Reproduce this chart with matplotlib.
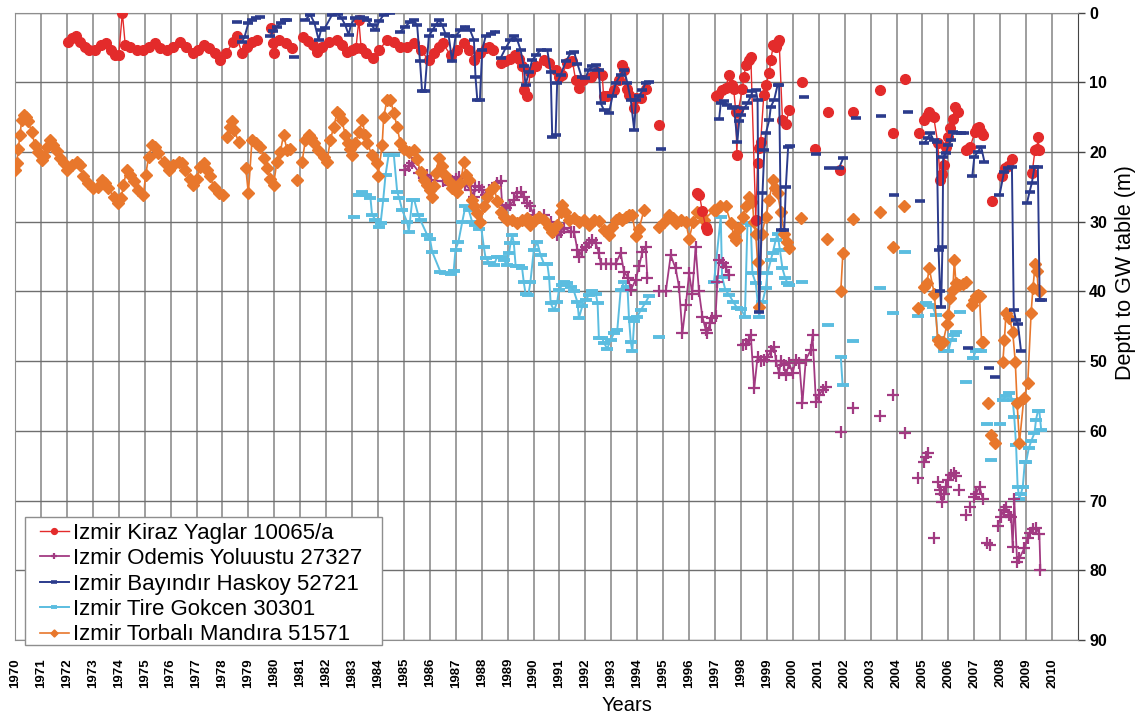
import numpy as np
import matplotlib
matplotlib.use("Agg")
import matplotlib.pyplot as plt
from matplotlib.lines import Line2D
from matplotlib.patches import Rectangle

plt.rcParams['font.family'] = ['Liberation Sans', 'DejaVu Sans']

# Depth to groundwater table (m), as (year, depth) segments.
# A new segment means a gap in the record (no connecting line).
kiraz = [
    [(1972.05, 4.2), (1972.2, 3.7), (1972.35, 3.4), (1972.5, 4.2), (1972.7, 4.9), (1972.85, 5.3),
     (1973.1, 5.35), (1973.3, 4.6), (1973.5, 4.4), (1973.7, 5.35), (1973.85, 6.1), (1974.0, 6.1),
     (1974.14, 0.0), (1974.25, 4.6), (1974.45, 4.9), (1974.7, 5.35), (1974.95, 5.35), (1975.15, 4.9),
     (1975.4, 4.4), (1975.6, 5.1), (1975.85, 5.35), (1976.1, 4.9), (1976.35, 4.2), (1976.6, 4.9),
     (1976.85, 5.8), (1977.05, 5.35), (1977.3, 4.6), (1977.5, 5.1), (1977.7, 5.8), (1977.92, 6.8),
     (1978.15, 5.8), (1978.4, 4.2), (1978.55, 3.4), (1978.75, 5.8), (1978.95, 4.9), (1979.15, 4.2),
     (1979.33, 3.9)],
    [(1979.88, 2.2), (1979.95, 4.4), (1980.0, 5.8), (1980.2, 3.9), (1980.45, 4.4), (1980.7, 5.1)],
    [(1981.1, 3.5), (1981.3, 4.0), (1981.5, 4.6), (1981.65, 5.6), (1981.85, 4.9), (1982.1, 4.2),
     (1982.4, 3.9), (1982.6, 4.6), (1982.8, 5.6), (1983.0, 5.35), (1983.15, 5.1), (1983.26, 1.05),
     (1983.35, 5.1), (1983.55, 5.8), (1983.8, 6.5), (1984.05, 5.35), (1984.35, 3.9), (1984.6, 4.2),
     (1984.85, 4.9), (1985.1, 4.9), (1985.4, 4.4), (1985.65, 5.35), (1985.95, 6.8), (1986.15, 5.8),
     (1986.35, 4.9), (1986.5, 4.4), (1986.8, 6.1), (1987.05, 5.35), (1987.3, 4.4), (1987.5, 5.35),
     (1987.7, 6.8), (1987.95, 5.8), (1988.15, 5.1), (1988.3, 4.9), (1988.45, 5.35)],
    [(1988.75, 7.2), (1988.9, 7.0), (1989.1, 6.6), (1989.3, 6.1), (1989.45, 6.6), (1989.56, 7.7),
     (1989.62, 11.1), (1989.75, 12.0), (1989.88, 8.5), (1990.1, 7.7), (1990.39, 6.8), (1990.6, 7.2),
     (1990.85, 8.2), (1990.97, 9.2), (1991.1, 8.9), (1991.3, 7.2), (1991.5, 7.0), (1991.62, 9.6),
     (1991.74, 10.8), (1991.9, 9.6), (1992.2, 9.2), (1992.45, 8.5), (1992.65, 8.9), (1992.7, 12.0),
     (1992.85, 12.0), (1993.1, 11.1), (1993.3, 9.6), (1993.42, 7.5), (1993.5, 8.2), (1993.6, 10.9),
     (1993.7, 11.8), (1993.86, 13.7), (1993.95, 12.3), (1994.13, 12.3), (1994.32, 10.9)],
    [(1994.83, 16.1)],
    [(1996.32, 25.9), (1996.4, 26.2), (1996.51, 28.5), (1996.64, 30.7), (1996.68, 31.2)],
    [(1997.03, 12.0), (1997.1, 11.8), (1997.25, 11.1), (1997.41, 10.8), (1997.54, 8.9), (1997.67, 10.4),
     (1997.72, 11.0), (1997.8, 14.2), (1997.84, 20.4), (1997.9, 14.0), (1998.05, 11.0), (1998.11, 9.2),
     (1998.19, 7.5), (1998.3, 6.8), (1998.38, 6.3), (1998.57, 29.7), (1998.64, 21.6), (1998.7, 19.4),
     (1998.76, 18.5), (1998.88, 11.8), (1998.96, 10.4), (1999.09, 8.7), (1999.15, 6.8), (1999.25, 4.6),
     (1999.34, 4.9), (1999.41, 4.2), (1999.47, 3.9), (1999.6, 15.4), (1999.73, 15.9), (1999.86, 14.0)],
    [(2000.35, 10.0)], [(2000.85, 19.6)], [(2001.34, 14.3)], [(2001.83, 22.6)], [(2002.34, 14.3)],
    [(2003.35, 11.1)], [(2003.85, 17.2)], [(2004.34, 9.5)], [(2004.85, 17.2)],
    [(2005.07, 15.4), (2005.16, 14.8), (2005.26, 14.2), (2005.35, 14.8), (2005.43, 14.9), (2005.59, 18.7),
     (2005.68, 24.0), (2005.74, 23.2), (2005.82, 21.8), (2005.91, 19.2), (2006.0, 17.8), (2006.08, 16.6),
     (2006.17, 15.2), (2006.26, 13.5), (2006.38, 14.2)],
    [(2006.66, 19.7), (2006.75, 19.5), (2006.84, 19.2), (2007.03, 17.1), (2007.1, 16.6), (2007.17, 16.4),
     (2007.26, 17.1), (2007.35, 17.5)],
    [(2007.67, 27.0)],
    [(2008.05, 23.5), (2008.19, 22.3), (2008.3, 22.0), (2008.44, 21.0)],
    [(2009.23, 23.0), (2009.34, 19.7), (2009.42, 19.5), (2009.45, 17.9), (2009.51, 19.7)],
]

odemis = [
    [(1985.06, 22.6), (1985.2, 22.0), (1985.32, 21.6), (1985.6, 23.0), (1985.83, 23.8), (1985.9, 23.3),
     (1986.05, 24.0), (1986.5, 24.2), (1986.73, 24.7), (1986.86, 24.2), (1986.99, 23.8), (1987.12, 23.6),
     (1987.25, 24.2), (1987.37, 24.7), (1987.57, 25.4), (1987.7, 26.4), (1987.76, 24.8), (1987.89, 25.0),
     (1988.02, 25.5), (1988.15, 26.2), (1988.3, 25.4), (1988.47, 25.2), (1988.6, 24.5), (1988.73, 24.2),
     (1988.79, 27.6), (1988.92, 28.0), (1989.1, 27.6), (1989.24, 26.9), (1989.37, 25.9), (1989.5, 25.7),
     (1989.63, 26.4), (1989.76, 27.3), (1989.88, 27.8), (1990.0, 29.0), (1990.2, 29.3), (1990.4, 29.0),
     (1990.66, 30.0), (1990.79, 31.4), (1990.91, 31.9), (1991.04, 31.4), (1991.17, 30.9), (1991.43, 31.4),
     (1991.56, 31.4), (1991.69, 34.0), (1991.75, 35.0), (1991.88, 34.0), (1992.01, 33.6), (1992.14, 33.1),
     (1992.27, 32.6), (1992.4, 33.1), (1992.52, 34.5), (1992.59, 36.0), (1992.78, 36.0), (1992.97, 36.0),
     (1993.17, 36.0), (1993.36, 34.5), (1993.49, 37.2), (1993.65, 38.0), (1993.75, 39.8), (1993.94, 38.3),
     (1994.07, 36.4), (1994.2, 34.3), (1994.32, 33.6), (1994.39, 38.1)],
    [(1994.85, 40.0), (1995.1, 40.0), (1995.29, 34.8), (1995.48, 36.7), (1995.61, 39.3), (1995.74, 46.0),
     (1995.87, 42.0), (1996.0, 37.4), (1996.12, 40.3), (1996.25, 33.6), (1996.38, 40.0), (1996.51, 43.6),
     (1996.64, 45.5), (1996.7, 46.0), (1996.8, 44.5), (1996.9, 43.8), (1997.02, 43.5), (1997.09, 38.6),
     (1997.16, 35.5), (1997.3, 35.9), (1997.41, 36.5), (1997.54, 37.6)],
    [(1998.06, 47.7), (1998.18, 47.5), (1998.31, 47.0), (1998.38, 46.3), (1998.51, 53.9), (1998.64, 49.4),
     (1998.76, 50.0), (1998.89, 49.8), (1999.02, 49.4), (1999.15, 48.6), (1999.28, 47.9), (1999.35, 50.0),
     (1999.47, 51.7), (1999.54, 50.0), (1999.65, 50.6), (1999.73, 52.0), (1999.86, 50.3), (1999.99, 51.7),
     (2000.12, 49.8), (2000.25, 50.3), (2000.37, 56.0), (2000.5, 49.8), (2000.69, 48.4), (2000.76, 46.3),
     (2000.89, 55.8), (2001.02, 54.8), (2001.15, 54.1), (2001.27, 53.7)],
    [(2001.85, 60.1)], [(2002.34, 56.7)], [(2003.36, 57.8)], [(2003.85, 54.9)], [(2004.34, 60.3)],
    [(2004.84, 66.8)],
    [(2005.07, 64.4), (2005.12, 63.8), (2005.2, 63.2)],
    [(2005.43, 75.3)],
    [(2005.59, 67.4), (2005.66, 68.5), (2005.72, 69.0), (2005.77, 70.2), (2005.84, 69.0), (2005.91, 68.0),
     (2006.0, 67.0), (2006.1, 66.3), (2006.23, 66.0), (2006.3, 66.5)],
    [(2006.42, 68.5)], [(2006.68, 72.1)], [(2006.85, 70.9)],
    [(2007.0, 69.5), (2007.07, 69.0), (2007.2, 68.0), (2007.32, 69.7)],
    [(2007.49, 76.1)], [(2007.6, 76.4)],
    [(2007.9, 73.6), (2008.03, 72.3), (2008.13, 71.4), (2008.22, 70.9), (2008.32, 72.0), (2008.42, 72.4),
     (2008.48, 76.6), (2008.54, 69.7), (2008.65, 78.8), (2008.74, 78.3), (2008.93, 76.8), (2009.06, 75.3),
     (2009.15, 74.6), (2009.26, 74.1), (2009.39, 73.9), (2009.51, 74.8), (2009.55, 80.0)],
]

bayindir = [
    [(1978.56, 1.4)],
    [(1978.75, 4.2), (1978.85, 3.5), (1979.0, 1.5), (1979.15, 1.0), (1979.3, 0.8), (1979.46, 0.6)],
    [(1979.85, 3.4), (1979.95, 2.6), (1980.1, 2.0), (1980.25, 1.5), (1980.4, 1.0), (1980.49, 1.0)],
    [(1980.75, 6.3)],
    [(1981.2, 1.0), (1981.39, 0.3), (1981.55, 1.5), (1981.71, 3.9), (1981.8, 2.5), (1981.95, 2.2),
     (1982.23, 0.3), (1982.45, 0.2), (1982.6, 0.8), (1982.74, 1.8), (1982.87, 3.2), (1982.95, 1.8),
     (1983.1, 0.8), (1983.3, 0.6), (1983.45, 0.8), (1983.58, 1.0), (1983.75, 1.8), (1983.9, 2.5),
     (1984.05, 1.2), (1984.22, 0.3), (1984.48, 0.1)],
    [(1984.86, 2.7), (1985.05, 2.0), (1985.25, 1.3), (1985.38, 1.05), (1985.51, 1.8), (1985.62, 7.0),
     (1985.7, 11.3), (1985.8, 11.3), (1985.96, 3.4), (1986.1, 2.5), (1986.22, 1.8), (1986.35, 1.05),
     (1986.48, 1.8), (1986.6, 3.0), (1986.73, 3.4), (1986.86, 7.0), (1986.99, 3.4), (1987.18, 2.5),
     (1987.37, 2.0), (1987.55, 2.5), (1987.7, 3.9), (1987.76, 9.2), (1987.83, 12.5), (1987.93, 12.5),
     (1988.02, 5.35), (1988.15, 3.4), (1988.34, 3.0), (1988.53, 2.7)],
    [(1988.73, 6.5), (1988.92, 5.1), (1989.11, 3.9), (1989.24, 3.4), (1989.37, 3.9), (1989.5, 5.35),
     (1989.62, 7.7), (1989.69, 10.4), (1989.82, 8.5), (1989.95, 6.8), (1990.1, 6.1), (1990.27, 5.35),
     (1990.53, 5.35), (1990.66, 8.5), (1990.72, 17.8), (1990.85, 17.5), (1990.91, 10.1), (1991.05, 8.9),
     (1991.24, 7.0), (1991.43, 5.8), (1991.56, 5.6), (1991.69, 7.3), (1991.85, 9.2), (1992.0, 9.4),
     (1992.13, 8.2), (1992.27, 7.7), (1992.4, 7.5), (1992.52, 8.2), (1992.59, 13.0), (1992.72, 14.0),
     (1992.91, 14.4), (1993.04, 12.0), (1993.17, 10.1), (1993.36, 8.9), (1993.49, 8.2), (1993.62, 10.1),
     (1993.75, 12.5), (1993.88, 16.8), (1993.95, 12.5), (1994.07, 12.0), (1994.2, 11.1), (1994.32, 10.1),
     (1994.45, 9.9)],
    [(1994.9, 19.5)],
    [(1997.16, 15.2), (1997.22, 13.0), (1997.35, 12.7), (1997.48, 13.2), (1997.67, 13.7), (1997.73, 13.5),
     (1997.86, 18.5), (1997.93, 15.6), (1997.99, 14.7), (1998.12, 13.7), (1998.25, 13.0), (1998.38, 12.0),
     (1998.44, 11.3), (1998.57, 11.1), (1998.64, 12.5), (1998.7, 42.9), (1998.83, 25.9), (1998.9, 19.7),
     (1998.96, 17.3), (1999.09, 15.4), (1999.15, 13.5), (1999.28, 12.5), (1999.41, 10.4), (1999.47, 10.4),
     (1999.54, 31.2), (1999.67, 31.2), (1999.73, 25.0), (1999.82, 19.2), (1999.9, 19.1)],
    [(2000.44, 12.1)], [(2000.89, 20.3)], [(2001.4, 22.3)], [(2001.78, 22.3), (2001.95, 20.8)],
    [(2002.42, 15.1)], [(2003.41, 14.8)], [(2003.92, 26.1)], [(2004.43, 14.2)], [(2004.92, 27.0)],
    [(2005.07, 18.7), (2005.2, 18.0), (2005.3, 17.3), (2005.43, 18.3), (2005.55, 18.5), (2005.62, 34.0),
     (2005.68, 40.0), (2005.72, 42.2), (2005.77, 33.6), (2005.8, 20.7), (2005.9, 20.2), (2006.0, 19.0),
     (2006.1, 18.3), (2006.17, 17.1), (2006.35, 17.2), (2006.5, 17.2), (2006.62, 17.3)],
    [(2006.74, 48.1)],
    [(2006.92, 23.5), (2007.0, 20.7), (2007.13, 20.0), (2007.26, 19.2), (2007.39, 21.4)],
    [(2007.58, 51.0)], [(2007.78, 52.2)],
    [(2007.97, 26.2), (2008.15, 22.8), (2008.3, 22.3), (2008.45, 22.1), (2008.52, 42.6), (2008.6, 44.1),
     (2008.68, 44.6), (2008.8, 48.5)],
    [(2009.03, 27.3), (2009.13, 25.7), (2009.22, 24.4), (2009.32, 22.1), (2009.45, 22.1), (2009.52, 41.2),
     (2009.62, 41.2)],
]

tire = [
    [(1983.07, 29.3)],
    [(1983.26, 26.2), (1983.4, 25.7), (1983.55, 26.2), (1983.71, 26.6), (1983.77, 29.0), (1983.9, 29.7),
     (1984.03, 30.7), (1984.1, 30.2), (1984.2, 26.9), (1984.29, 23.3), (1984.41, 20.4), (1984.61, 20.4),
     (1984.74, 25.7), (1984.82, 26.6), (1984.93, 28.3), (1985.12, 30.0), (1985.19, 31.4), (1985.32, 26.9),
     (1985.4, 26.9), (1985.55, 29.0), (1985.64, 29.8), (1985.9, 31.9), (1986.0, 32.4), (1986.09, 34.3),
     (1986.41, 37.2), (1986.6, 37.4), (1986.8, 37.5), (1986.92, 37.0), (1986.99, 34.0), (1987.1, 32.9),
     (1987.25, 30.0), (1987.37, 27.8), (1987.5, 28.3), (1987.63, 30.0), (1987.76, 30.5), (1987.88, 31.0),
     (1987.95, 30.0), (1988.08, 33.6), (1988.15, 35.2), (1988.3, 35.9), (1988.47, 36.2), (1988.6, 35.0),
     (1988.73, 35.0), (1988.85, 35.5), (1988.98, 36.2), (1989.05, 34.5), (1989.11, 33.1), (1989.18, 31.9),
     (1989.24, 33.1), (1989.31, 36.4), (1989.45, 36.4), (1989.56, 36.7), (1989.62, 38.6), (1989.69, 40.3),
     (1989.8, 40.5), (1989.88, 38.6), (1990.01, 34.0), (1990.14, 32.9), (1990.27, 34.8), (1990.4, 36.0),
     (1990.53, 36.0), (1990.6, 38.0), (1990.66, 41.7), (1990.79, 42.7), (1990.91, 41.5), (1990.98, 39.8),
     (1991.1, 39.1), (1991.17, 38.6), (1991.3, 38.8), (1991.43, 39.3), (1991.56, 40.0), (1991.69, 41.5),
     (1991.75, 43.8), (1991.88, 42.1), (1992.01, 41.2), (1992.14, 40.5), (1992.27, 40.0), (1992.4, 40.3),
     (1992.47, 41.7), (1992.52, 46.7), (1992.65, 46.7), (1992.72, 47.4), (1992.84, 48.2), (1992.97, 47.0),
     (1993.1, 46.0), (1993.23, 45.5), (1993.36, 39.8), (1993.49, 38.6), (1993.62, 39.3), (1993.68, 43.8),
     (1993.75, 47.2), (1993.81, 48.6), (1993.88, 44.3), (1994.0, 43.6), (1994.13, 42.7), (1994.3, 41.7),
     (1994.45, 40.7)],
    [(1994.84, 46.5)],
    [(1996.96, 38.6), (1997.22, 29.3), (1997.27, 37.9), (1997.4, 39.8), (1997.55, 40.5), (1997.7, 41.5),
     (1997.86, 42.4), (1998.0, 42.5), (1998.15, 43.6), (1998.25, 30.2), (1998.38, 30.5), (1998.44, 37.4),
     (1998.57, 38.8), (1998.7, 43.6), (1998.83, 41.5), (1998.96, 39.5), (1999.02, 37.4), (1999.15, 35.5),
     (1999.22, 34.5), (1999.34, 32.6), (1999.41, 31.7), (1999.5, 34.0), (1999.6, 36.7), (1999.7, 38.0),
     (1999.79, 38.8), (1999.86, 39.0)],
    [(2000.37, 38.7)], [(2001.34, 44.8)], [(2001.85, 49.4), (2001.92, 53.4)], [(2002.34, 47.1)],
    [(2003.36, 39.5)], [(2003.85, 43.1)], [(2004.32, 34.3)], [(2004.84, 43.5)],
    [(2005.14, 41.7), (2005.25, 41.9), (2005.4, 42.2), (2005.52, 43.4), (2005.59, 46.7), (2005.72, 47.4),
     (2005.84, 48.6), (2006.0, 48.6), (2006.1, 47.0), (2006.2, 46.3), (2006.29, 45.8)],
    [(2006.45, 43.0)], [(2006.68, 53.0)],
    [(2006.95, 49.6), (2007.05, 48.6), (2007.15, 48.4), (2007.25, 48.5)],
    [(2007.47, 59.0)], [(2007.66, 64.2)], [(2008.0, 59.0)],
    [(2008.1, 55.6), (2008.22, 55.0), (2008.35, 54.6), (2008.48, 55.6), (2008.54, 58.0), (2008.61, 62.0),
     (2008.67, 68.0), (2008.74, 69.7), (2008.8, 69.0), (2008.87, 68.0), (2008.95, 64.4), (2009.0, 64.4),
     (2009.1, 62.5), (2009.19, 61.5), (2009.32, 60.3), (2009.38, 58.4), (2009.45, 57.2), (2009.51, 57.2),
     (2009.58, 59.9)],
]

torbali = [
    [(1970.0, 22.6), (1970.06, 21.6), (1970.13, 19.5), (1970.19, 17.5), (1970.26, 15.4), (1970.35, 14.7),
     (1970.43, 15.0), (1970.51, 15.6), (1970.64, 17.1), (1970.77, 19.0), (1970.9, 20.0), (1971.03, 21.1),
     (1971.12, 20.5), (1971.22, 19.2), (1971.35, 18.3), (1971.48, 19.0), (1971.61, 19.9), (1971.74, 20.9),
     (1971.87, 21.6), (1972.0, 22.6), (1972.19, 21.9), (1972.38, 21.4), (1972.5, 21.9), (1972.64, 23.5),
     (1972.83, 24.5), (1973.02, 25.2), (1973.2, 25.0), (1973.35, 24.0), (1973.48, 24.5), (1973.6, 25.2),
     (1973.8, 26.4), (1973.99, 27.3), (1974.1, 26.6), (1974.18, 24.7), (1974.31, 22.6), (1974.44, 23.3),
     (1974.57, 24.2), (1974.76, 25.5), (1974.95, 26.2), (1975.04, 23.3), (1975.15, 20.7), (1975.28, 19.0),
     (1975.4, 19.2), (1975.53, 20.2), (1975.73, 21.4), (1975.92, 22.6), (1976.1, 21.9), (1976.31, 21.4),
     (1976.44, 21.6), (1976.56, 22.6), (1976.76, 23.8), (1976.88, 24.7), (1977.0, 23.8), (1977.14, 22.1),
     (1977.27, 21.6), (1977.4, 22.6), (1977.53, 23.5), (1977.66, 25.0), (1977.85, 25.9), (1978.02, 26.2)],
    [(1978.17, 17.8), (1978.3, 16.4), (1978.37, 15.6), (1978.45, 16.8), (1978.62, 18.5)],
    [(1978.9, 22.3), (1979.0, 25.9), (1979.14, 18.3), (1979.3, 18.7), (1979.46, 19.2), (1979.59, 20.9),
     (1979.72, 22.3), (1979.85, 23.8), (1979.97, 24.7), (1980.1, 21.4), (1980.23, 20.0), (1980.36, 17.5),
     (1980.49, 19.7), (1980.62, 19.5)],
    [(1980.88, 24.0)],
    [(1981.07, 21.4), (1981.2, 18.3), (1981.33, 17.5), (1981.43, 18.0), (1981.53, 18.7), (1981.7, 19.7),
     (1981.9, 20.7), (1982.03, 21.4), (1982.16, 18.3), (1982.29, 16.4), (1982.43, 14.2), (1982.5, 14.6),
     (1982.6, 15.4), (1982.74, 17.5), (1982.85, 18.7), (1982.93, 19.5), (1983.0, 20.4), (1983.13, 18.7),
     (1983.26, 17.1), (1983.39, 15.4), (1983.5, 17.5), (1983.58, 18.7), (1983.77, 20.4), (1983.97, 21.6),
     (1984.0, 23.5), (1984.16, 19.0), (1984.22, 14.9), (1984.35, 12.5), (1984.48, 12.5), (1984.61, 14.4),
     (1984.74, 16.4), (1984.86, 18.7), (1984.99, 19.5), (1985.18, 20.0), (1985.38, 19.7), (1985.5, 21.0),
     (1985.64, 22.8), (1985.77, 24.0), (1985.9, 24.7), (1986.0, 25.5), (1986.09, 26.4), (1986.15, 24.8),
     (1986.22, 23.0), (1986.35, 20.9), (1986.48, 22.0), (1986.6, 23.3), (1986.73, 24.2), (1986.86, 25.2),
     (1987.05, 25.7), (1987.18, 24.5), (1987.31, 21.4), (1987.4, 23.3), (1987.5, 24.0), (1987.63, 26.9),
     (1987.7, 27.8), (1987.83, 28.8), (1987.95, 30.0), (1988.08, 27.8), (1988.2, 26.5), (1988.34, 25.4),
     (1988.47, 25.0), (1988.6, 27.0), (1988.73, 28.6), (1988.85, 29.3), (1988.98, 29.7), (1989.18, 29.7),
     (1989.37, 30.2), (1989.56, 29.7), (1989.76, 29.5), (1989.88, 30.5), (1990.04, 29.7), (1990.2, 29.3),
     (1990.4, 29.7), (1990.59, 30.7), (1990.72, 31.4), (1990.91, 30.5), (1991.04, 28.6), (1991.1, 27.6),
     (1991.23, 28.6), (1991.36, 29.7), (1991.56, 29.5), (1991.75, 30.0), (1991.95, 29.7), (1992.14, 30.5),
     (1992.33, 29.7), (1992.52, 29.9), (1992.72, 31.2), (1992.91, 31.9), (1993.04, 30.7), (1993.17, 29.7),
     (1993.29, 29.5), (1993.42, 29.7), (1993.55, 29.3), (1993.68, 29.0), (1993.81, 29.0), (1993.94, 32.1),
     (1994.07, 31.0), (1994.26, 28.3)],
    [(1994.84, 30.7), (1995.03, 30.0), (1995.23, 29.0), (1995.36, 29.5), (1995.48, 30.2), (1995.67, 29.7),
     (1995.87, 30.0), (1996.0, 32.4), (1996.16, 30.0), (1996.32, 28.6), (1996.45, 29.0), (1996.58, 29.7),
     (1996.96, 28.3), (1997.03, 28.3), (1997.2, 27.8), (1997.41, 27.8), (1997.61, 30.2), (1997.73, 32.1),
     (1997.8, 32.6), (1997.93, 30.9), (1998.06, 29.3), (1998.19, 27.8), (1998.31, 26.4), (1998.44, 27.1),
     (1998.5, 30.0), (1998.57, 31.7), (1998.64, 35.7), (1998.7, 42.2), (1998.8, 31.7), (1998.96, 29.3),
     (1999.09, 26.9), (1999.22, 24.0), (1999.32, 25.2), (1999.41, 25.9), (1999.54, 28.6), (1999.67, 31.7),
     (1999.77, 32.9), (1999.86, 33.8)],
    [(2000.33, 29.4)], [(2001.33, 32.4)], [(2001.85, 40.0), (2001.93, 34.5)], [(2002.34, 29.6)],
    [(2003.36, 28.6)], [(2003.85, 33.6)], [(2004.27, 27.7)], [(2004.84, 42.3)],
    [(2005.07, 39.3), (2005.17, 38.8), (2005.26, 36.7), (2005.46, 40.4), (2005.59, 47.0), (2005.66, 47.5),
     (2005.72, 47.6), (2005.8, 47.2), (2005.95, 44.6), (2006.0, 43.4), (2006.08, 41.0), (2006.17, 39.8),
     (2006.23, 35.5), (2006.29, 38.8), (2006.42, 39.0), (2006.55, 38.9), (2006.68, 38.7)],
    [(2006.9, 41.9), (2007.0, 41.2), (2007.07, 40.7), (2007.13, 40.5), (2007.2, 40.6), (2007.28, 47.2),
     (2007.33, 47.3)],
    [(2007.51, 56.0)], [(2007.64, 60.6)], [(2007.8, 61.8)],
    [(2008.1, 50.1), (2008.16, 47.0), (2008.22, 43.1), (2008.35, 43.8), (2008.48, 45.8), (2008.58, 50.1),
     (2008.65, 56.0), (2008.74, 61.7), (2008.91, 55.3), (2009.06, 53.2), (2009.19, 43.1), (2009.26, 39.5),
     (2009.35, 36.0), (2009.42, 37.0), (2009.46, 39.8), (2009.54, 40.0)],
]

labels = ["Izmir Kiraz Yaglar 10065/a", "Izmir Odemis Yoluustu 27327",
          "Izmir Bayındır Haskoy 52721", "Izmir Tire Gokcen 30301",
          "Izmir Torbalı Mandıra 51571"]
years = list(range(1970, 2011))
depth_ticks = list(range(0, 91, 10))


def join(segments):
    xs, ys = [], []
    for seg in segments:
        for x, y in seg:
            xs.append(x)
            ys.append(y)
        xs.append(np.nan)
        ys.append(np.nan)
    return np.array(xs), np.array(ys)


fig = plt.figure(figsize=(11.38, 7.17), dpi=100)
ax = fig.add_axes([0.0132, 0.1074, 0.9341, 0.8749])

styles = {
    "kiraz": dict(color="#e32b2b", marker="o", ms=7, mec="#e32b2b", lw=1.0, zorder=4),
    "odemis": dict(color="#a23a82", marker="+", ms=8, mew=1.6, lw=1.3, zorder=3),
    "bayindir": dict(color="#2b3b8c", marker="_", ms=7, mew=2.6, lw=1.4, zorder=5),
    "tire": dict(color="#5bbde0", marker="_", ms=8, mew=2.8, lw=1.4, zorder=2),
    "torbali": dict(color="#e8772c", marker="D", ms=6, mec="#e8772c", lw=1.2, zorder=3.5),
}

for key, data in [("tire", tire), ("odemis", odemis), ("torbali", torbali),
                  ("kiraz", kiraz), ("bayindir", bayindir)]:
    x, y = join(data)
    ax.plot(x, y, **styles[key])

ax.set_xlim(1970, 2011)
ax.set_ylim(90, 0)
ax.set_xticks(years)
ax.set_xticklabels([str(y) for y in years], rotation=90, fontweight="bold", fontsize=9.5)
ax.set_yticks(depth_ticks)
ax.yaxis.tick_right()
ax.tick_params(axis="y", labelsize=11.5, length=5, width=1, pad=3, color="#444444")
for t in ax.get_yticklabels():
    t.set_fontweight("bold")
ax.tick_params(axis="x", length=0, pad=13)

ax.grid(axis="x", color="#8e8e8e", lw=1.2)
ax.grid(axis="y", color="#6f6f6f", lw=1.0)
ax.set_axisbelow(True)
for side in ["left", "top", "bottom"]:
    ax.spines[side].set_color("#8e8e8e")
ax.spines["right"].set_color("#444444")

fig.text(0.9886, 0.62, "Depth to GW table (m)", rotation=90, ha="center", va="center", fontsize=15.5)
fig.text(0.551, 0.0167, "Years", ha="center", va="center", fontsize=14.5)

# legend box drawn separately so its padding matches the original
ax.add_patch(Rectangle((0.0094, -0.008), 0.3358, 0.204, transform=ax.transAxes,
                       facecolor="white", edgecolor="#8e8e8e", lw=1.0, clip_on=False, zorder=9))
order = ["kiraz", "odemis", "bayindir", "tire", "torbali"]
leg_handles = [Line2D([], [], **{k: v for k, v in styles[key].items() if k != "zorder"}) for key in order]
leg = ax.legend(leg_handles, labels, loc="upper left", bbox_to_anchor=(0.0235, 0.187),
                borderaxespad=0, borderpad=0, fontsize=16, frameon=False,
                labelspacing=0.2, handlelength=1.3, handletextpad=0.2, markerscale=0.6)
leg.set_zorder(10)

fig.savefig("out.png", dpi=100)
